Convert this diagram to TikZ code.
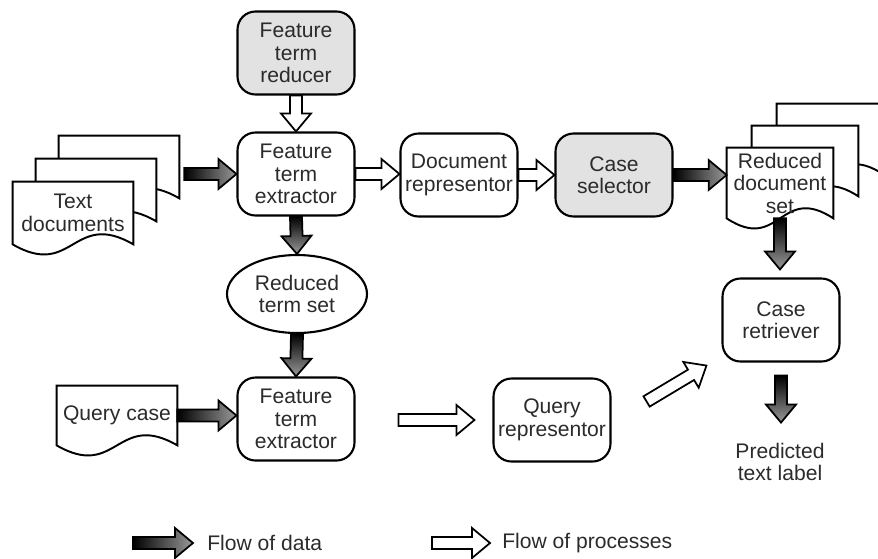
\documentclass[tikz,border=0pt]{standalone}
\usepackage{fontspec}
\setmainfont{Liberation Sans}
\usepackage{tikz}
\usetikzlibrary{
  arrows.meta, positioning, shapes.geometric, calc, backgrounds
}
\definecolor{ctext}{HTML}{2B2B2B}
\definecolor{cshade}{HTML}{E2E2E2}
\newcommand\boxfont{\fontsize{12pt}{12.8pt}\selectfont}
% block arrow sizes
\def\arrshaft{0.12cm}
\def\arrwing{0.30cm}
\def\arrhead{0.36cm}
\newcommand\blockarr[3][]{%
  \coordinate (ba-s) at #2;
  \coordinate (ba-e) at #3;
  \coordinate (ba-n) at ($(ba-e)!\arrhead!(ba-s)$);
  \path[#1] ($(ba-s)!\arrshaft!90:(ba-e)$) -- ($(ba-n)!\arrshaft!-90:(ba-s)$)
    -- ($(ba-n)!\arrwing!-90:(ba-s)$) -- (ba-e) -- ($(ba-n)!\arrwing!90:(ba-s)$)
    -- ($(ba-n)!\arrshaft!90:(ba-s)$) -- ($(ba-s)!\arrshaft!-90:(ba-e)$) -- cycle;
}
\newcommand\docshape[1]{%
  \draw[docline] (#1.south west) -- (#1.north west) -- (#1.north east) -- (#1.south east)
    .. controls ($(#1.south)+(0,0.7)$) and ($(#1.south)+(0,-0.7)$) .. (#1.south west) -- cycle;
}
\tikzset{
  rbox/.style={draw=black, line width=1.2pt, rounded corners=0.36cm, fill=white,
               minimum width=2.34cm, minimum height=1.66cm, align=center,
               font=\boxfont, text=ctext, inner sep=1pt},
  gbox/.style={rbox, fill=cshade},
  docu/.style={minimum width=2.4cm, minimum height=1.24cm, align=center,
               font=\boxfont, text=ctext, inner sep=0pt},
  docline/.style={draw=black, line width=1.1pt, fill=white},
  dataR/.style={draw=black, line width=1pt, left color=black, right color=black!40},
  dataD/.style={draw=black, line width=1pt, top color=black, bottom color=black!40},
  proc/.style={draw=black, line width=1pt, fill=white},
}

\begin{document}
\begin{tikzpicture}[
    redset/.style={ellipse, draw=black, line width=1.2pt, minimum width=2.8cm,
                   minimum height=1.56cm, align=center, font=\boxfont, text=ctext, inner sep=0pt},
    lgd/.style={font=\fontsize{12pt}{13pt}\selectfont, text=ctext, inner sep=0pt}]
  \useasboundingbox (0,0) rectangle (17.56,-11.16);

  % processing chain
  \node[gbox] (ftr)  at (5.92,-1.06)  {Feature\\term\\reducer};
  \node[rbox] (fte)  at (5.92,-3.48)  {Feature\\term\\extractor};
  \node[rbox] (drep) at (9.18,-3.5)   {Document\\representor};
  \node[gbox] (csel) at (12.28,-3.5)  {Case\\selector};
  \node[redset] (rts) at (5.94,-5.88) {Reduced\\term set};
  \node[rbox] (fteq) at (5.92,-8.38)  {Feature\\term\\extractor};
  \node[rbox] (qrep) at (11.04,-8.4)  {Query\\representor};
  \node[rbox] (cret) at (15.62,-6.4)  {Case\\retriever};
  \node[align=center, font=\boxfont, text=ctext] (pred) at (15.6,-9.24) {Predicted\\text label};

  % documents
  \node[docu] (tdocc) at (2.38,-3.34) {};
  \node[docu] (tdocb) at (1.92,-3.80) {};
  \node[docu] (tdoc)  at (1.46,-4.26) {Text\\documents};
  \node[docu, minimum width=2.12cm, minimum height=1.4cm] (rdsc) at (16.6,-2.78) {};
  \node[docu, minimum width=2.12cm, minimum height=1.4cm] (rdsb) at (16.1,-3.22) {};
  \node[docu, minimum width=2.12cm, minimum height=1.4cm] (rds)  at (15.6,-3.66) {Reduced\\document\\set};
  \node[docu, minimum height=1.18cm] (qcase) at (2.34,-8.31) {Query case};
  \begin{scope}[on background layer]
    \docshape{tdocc} \docshape{tdocb} \docshape{tdoc}
    \docshape{rdsc} \docshape{rdsb} \docshape{rds}
    \docshape{qcase}
  \end{scope}

  % flow of data
  \blockarr[dataR]{($(tdocc.east |- fte.west)+(0.1,0)$)}{(fte.west)}
  \blockarr[dataD]{(fte.south)}{(rts.north)}
  \blockarr[dataD]{(rts.south)}{(fteq.north)}
  \blockarr[dataR]{(qcase.east)}{(qcase.east -| fteq.west)}
  \blockarr[dataR]{(csel.east)}{(csel.east -| rds.west)}
  \blockarr[dataD]{(rds.south)}{($(rds.south |- cret.north)+(0,0.16)$)}
  \blockarr[dataD]{($(cret.south)+(0,-0.26)$)}{($(cret.south)+(0,-1.2)$)}

  % flow of processes
  \blockarr[proc]{(ftr.south)}{(fte.north)}
  \blockarr[proc]{(fte.east)}{(fte.east -| drep.west)}
  \blockarr[proc]{(drep.east)}{(csel.west)}
  \blockarr[proc]{($(fteq.east |- qrep.west)+(0.86,0)$)}{($(qrep.west)+(-0.36,0)$)}
  \blockarr[proc]{($(qrep.north east)+(0.7,-0.48)$)}{($(cret.south west)+(-0.3,-0.06)$)}

  % legend
  \node[lgd, anchor=west] (ldata) at (4.14,-10.86) {Flow of data};
  \node[lgd, anchor=west] (lproc) at (10.04,-10.86) {Flow of processes};
  \coordinate (ldtail) at (2.66,-10.86);
  \coordinate (lptail) at (8.64,-10.86);
  \blockarr[dataR]{(ldtail)}{($(ldata.west)+(-0.28,0)$)}
  \blockarr[proc]{(lptail)}{($(lproc.west)+(-0.24,0)$)}
\end{tikzpicture}
\end{document}
